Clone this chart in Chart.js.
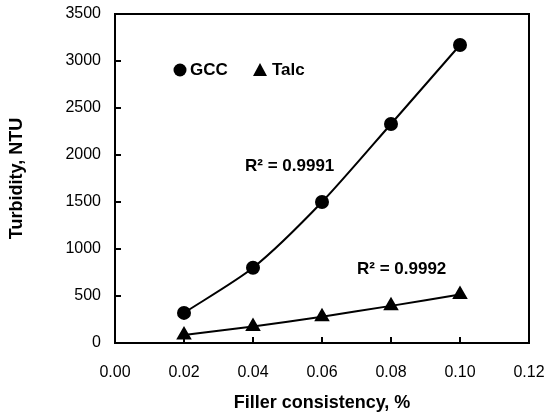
<!DOCTYPE html>
<html>
<head>
<meta charset="utf-8">
<script src="https://cdn.jsdelivr.net/npm/chart.js@4/dist/chart.umd.min.js"></script>
<style>
  html, body { margin: 0; padding: 0; background: #fff; }
  #wrap { width: 546px; height: 415px; }
</style>
</head>
<body>
<div id="wrap"><canvas id="chart"></canvas></div>
<script>
// Filler consistency (%) and turbidity (NTU)
const consistency = [0.02, 0.04, 0.06, 0.08, 0.10];
const gccTurbidity = [320, 800, 1500, 2330, 3170];
const talcTurbidity = [85, 175, 280, 395, 515];
const seriesNames = ['GCC', 'Talc'];
const r2Labels = ['R² = 0.9991', 'R² = 0.9992'];

const font = 'Liberation Sans, Arial, sans-serif';

// inside ticks, top/right frame, legend and R² notes
const decor = {
    id: 'decor',
    afterDraw(chart) {
        const ctx = chart.ctx;
        const a = chart.chartArea;
        const xs = chart.scales.x, ys = chart.scales.y;
        ctx.save();
        ctx.strokeStyle = '#000';
        ctx.lineWidth = 2;
        ctx.strokeRect(a.left, a.top, a.right - a.left, a.bottom - a.top);
        ctx.beginPath();
        xs.ticks.forEach(t => {
            const px = xs.getPixelForValue(t.value);
            ctx.moveTo(px, a.bottom);
            ctx.lineTo(px, a.bottom - 6);
        });
        ys.ticks.forEach(t => {
            const py = ys.getPixelForValue(t.value);
            ctx.moveTo(a.left, py);
            ctx.lineTo(a.left + 6, py);
        });
        ctx.stroke();

        // legend
        ctx.fillStyle = '#000';
        ctx.font = 'bold 17px ' + font;
        ctx.textBaseline = 'middle';
        const ly = 70;
        ctx.beginPath();
        ctx.arc(180, ly, 6.5, 0, Math.PI * 2);
        ctx.fill();
        ctx.fillText(seriesNames[0], 190, ly);
        ctx.beginPath();
        ctx.moveTo(260, ly - 7);
        ctx.lineTo(267, ly + 6);
        ctx.lineTo(253, ly + 6);
        ctx.closePath();
        ctx.fill();
        ctx.fillText(seriesNames[1], 272, ly);

        // R² notes
        ctx.font = 'bold 17px ' + font;
        ctx.fillText(r2Labels[0], 245, 166);
        ctx.fillText(r2Labels[1], 357, 269);
        ctx.restore();
    }
};

const toPoints = ys => consistency.map((x, i) => ({ x: x, y: ys[i] }));

new Chart(document.getElementById('chart').getContext('2d'), {
    type: 'line',
    data: {
        datasets: [{
            label: seriesNames[0],
            data: toPoints(gccTurbidity),
            borderColor: '#000',
            backgroundColor: '#000',
            borderWidth: 2,
            pointStyle: 'circle',
            pointRadius: 6,
            tension: 0.25,
            fill: false
        }, {
            label: seriesNames[1],
            data: toPoints(talcTurbidity),
            borderColor: '#000',
            backgroundColor: '#000',
            borderWidth: 2,
            pointStyle: 'triangle',
            pointRadius: 7,
            tension: 0.25,
            fill: false
        }]
    },
    options: {
        responsive: true,
        maintainAspectRatio: false,
        animation: false,
        layout: { padding: { top: 14, right: 0, left: 0, bottom: 0 } },
        plugins: { legend: { display: false }, tooltip: { enabled: false } },
        scales: {
            x: {
                type: 'linear',
                min: 0, max: 0.12,
                ticks: {
                    stepSize: 0.02,
                    color: '#000',
                    font: { family: font, size: 16 },
                    padding: 20,
                    callback: v => v.toFixed(2)
                },
                grid: { display: false, drawTicks: false },
                border: { display: true, color: '#000', width: 2 },
                title: {
                    display: true,
                    text: 'Filler consistency, %',
                    color: '#000',
                    font: { family: font, size: 18, weight: 'bold' },
                    padding: { top: 1, bottom: 1 }
                },
                afterFit: s => { s.height = 72; s.paddingRight = 17; s.paddingLeft = 0; }
            },
            y: {
                min: 0, max: 3500,
                ticks: {
                    stepSize: 500,
                    color: '#000',
                    font: { family: font, size: 16 },
                    padding: 14,
                    callback: v => String(v)
                },
                grid: { display: false, drawTicks: false },
                border: { display: true, color: '#000', width: 2 },
                title: {
                    display: true,
                    text: 'Turbidity, NTU',
                    color: '#000',
                    font: { family: font, size: 18, weight: 'bold' },
                    padding: { top: 6, bottom: 6 }
                },
                afterFit: s => { s.width = 115; s.paddingTop = 0; s.paddingBottom = 0; }
            }
        }
    },
    plugins: [decor]
});
</script>
</body>
</html>
